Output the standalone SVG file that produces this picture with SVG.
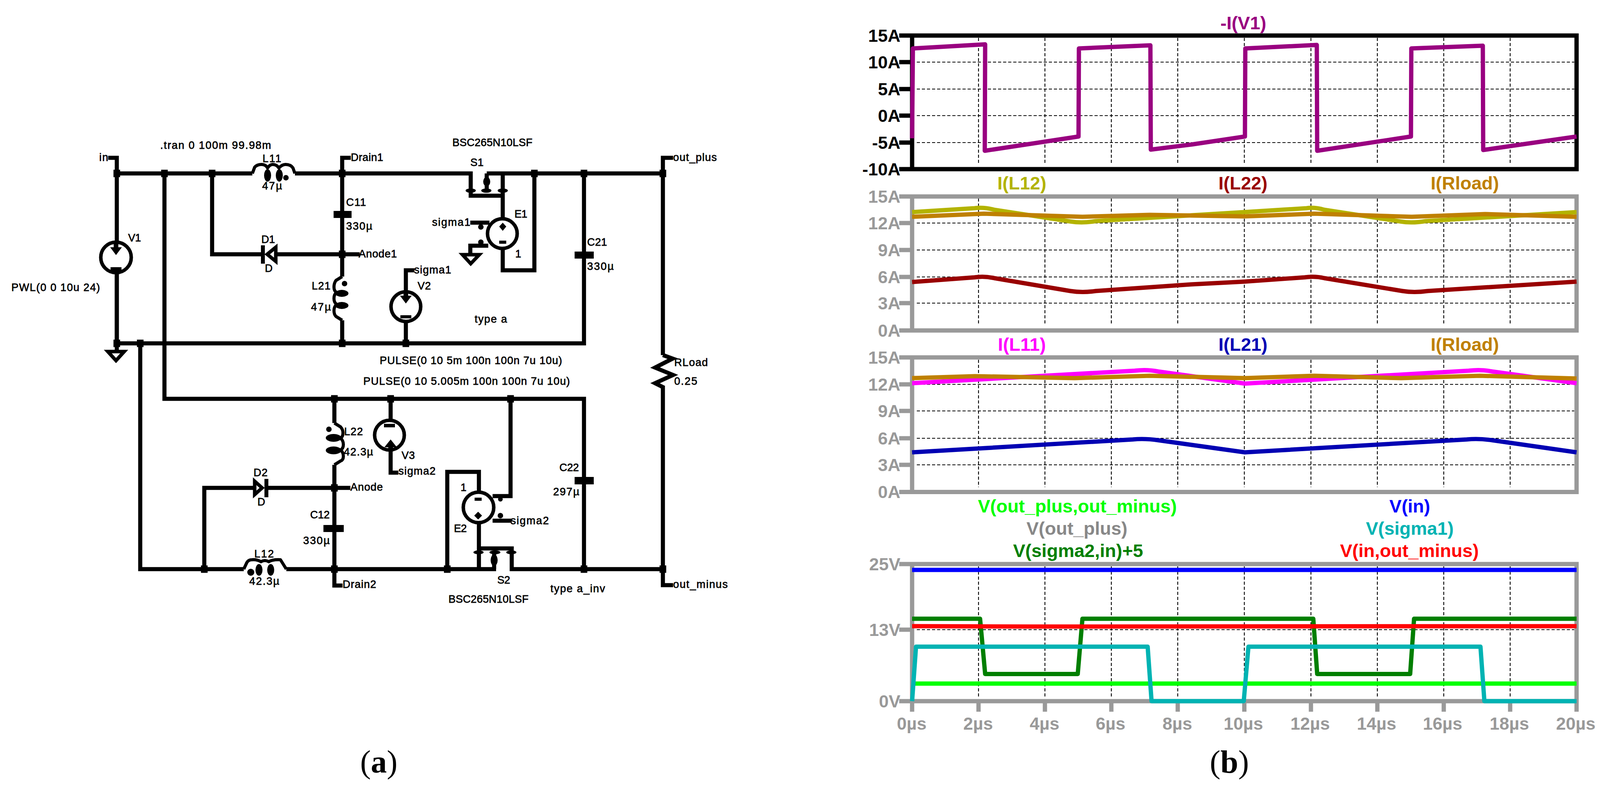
<svg xmlns="http://www.w3.org/2000/svg" xmlns:xlink="http://www.w3.org/1999/xlink" width="4102" height="2025" viewBox="0 0 4102 2025">
<style>
.w{fill:none;stroke:#000;stroke-width:10.500;stroke-linejoin:miter}
.sym{fill:none;stroke:#000;stroke-width:8;stroke-linejoin:round}
.ring{fill:#fff;stroke:#000;stroke-width:9}
.tri{fill:#fff;stroke:#000;stroke-width:9;stroke-linejoin:miter}
.b{fill:#000;stroke:none}
.t{font-family:"Liberation Sans",Arial,sans-serif;font-size:27.500px;fill:#000;stroke:#000;stroke-width:.8}
.c{font-family:"Liberation Sans",Arial,sans-serif;font-weight:700;font-size:45px}
.tl{font-family:"Liberation Sans",Arial,sans-serif;font-weight:700;font-size:47px;text-anchor:middle}
.m{text-anchor:middle}
.e{text-anchor:end}
.gy{fill:#999}
.k{fill:#000}
.grid{fill:none;stroke:#000;stroke-width:2.200;stroke-dasharray:8 5}
.fg{fill:none;stroke:#999;stroke-width:11;stroke-linejoin:miter}
.fk{fill:none;stroke:#000;stroke-width:11;stroke-linejoin:miter}
.tr{fill:none;stroke-width:11;stroke-linejoin:round}
.cap{font-family:"Liberation Serif","Times New Roman",serif;font-size:82px;fill:#000}
</style>
<defs>
<rect id="j" x="-8.500" y="-9.500" width="17" height="19" fill="#000"/>
</defs>

<g id="connectors">
<path class="w" d="M277 404H299V879"/>
<path class="w" d="M299 444H646"/>
<path class="w" d="M755 444H1205V501H1287"/>
<path class="w" d="M1287 444V557"/>
<path class="w" d="M1246 444H1697"/>
<path class="w" d="M1246 444V488"/>
<path class="w" d="M421 444V1021H1495V1457"/>
<path class="w" d="M543 444V651H669"/>
<path class="w" d="M710 651H921"/>
<path class="w" d="M898 404H876V708"/>
<path class="w" d="M876 820V879"/>
<path class="w" d="M299 879H1495V444"/>
<path class="w" d="M299 879V896"/>
<path class="w" d="M1061 692H1039V744"/>
<path class="w" d="M1039 827V879"/>
<path class="w" d="M1368 444V692H1287V639"/>
<path class="w" d="M1204 570H1253"/>
<path class="w" d="M1250 629H1204V648"/>
<path class="w" d="M1723 404H1697V909"/>
<path class="w" d="M1697 909L1722 918L1677 941L1723 960L1677 981L1697 991V1498H1723"/>
<path class="w" d="M359 879V1457H624"/>
<path class="w" d="M733 1457H1270"/>
<path class="w" d="M1265 1414V1457"/>
<path class="w" d="M1226 1342V1457"/>
<path class="w" d="M1226 1404H1310V1457H1697"/>
<path class="w" d="M856 1021V1083"/>
<path class="w" d="M856 1190V1499H877"/>
<path class="w" d="M1000 1021V1072"/>
<path class="w" d="M1000 1156V1210H1020"/>
<path class="w" d="M897 1249H686"/>
<path class="w" d="M649 1249H523V1457"/>
<path class="w" d="M1145 1457V1208H1226V1257"/>
<path class="w" d="M1307 1021V1270H1261"/>
<path class="w" d="M1261 1333H1310"/>
<use xlink:href="#j" href="#j" x="299" y="444"/>
<use xlink:href="#j" href="#j" x="421" y="444"/>
<use xlink:href="#j" href="#j" x="543" y="444"/>
<use xlink:href="#j" href="#j" x="876" y="444"/>
<use xlink:href="#j" href="#j" x="1368" y="444"/>
<use xlink:href="#j" href="#j" x="1495" y="444"/>
<use xlink:href="#j" href="#j" x="1697" y="444"/>
<use xlink:href="#j" href="#j" x="876" y="651"/>
<use xlink:href="#j" href="#j" x="299" y="879"/>
<use xlink:href="#j" href="#j" x="359" y="879"/>
<use xlink:href="#j" href="#j" x="876" y="879"/>
<use xlink:href="#j" href="#j" x="1039" y="879"/>
<use xlink:href="#j" href="#j" x="856" y="1021"/>
<use xlink:href="#j" href="#j" x="1000" y="1021"/>
<use xlink:href="#j" href="#j" x="1307" y="1021"/>
<use xlink:href="#j" href="#j" x="856" y="1249"/>
<use xlink:href="#j" href="#j" x="523" y="1457"/>
<use xlink:href="#j" href="#j" x="856" y="1457"/>
<use xlink:href="#j" href="#j" x="1145" y="1457"/>
<use xlink:href="#j" href="#j" x="1495" y="1457"/>
<use xlink:href="#j" href="#j" x="1697" y="1457"/>
</g>

<g id="V1">
<circle class="ring" cx="297" cy="659" r="39"/>
<path class="b" d="M291 622h12v11h9l-15 20l-15-20h9z"/>
<path class="w" d="M299 698V879"/>
<rect class="b" x="283" y="684" width="28" height="12"/>
<text class="t" x="328" y="618" textLength="33">V1</text>
<text class="t" x="29" y="745" textLength="227">PWL(0 0 10u 24)</text>
</g>
<g id="GND1"><path class="tri" d="M276 900H318L297 923Z"/></g>
<g id="L11">
<path class="sym" d="M646 444L652 428Q658 421 670 421Q680 421 685 430Q691 421 698 421Q708 421 714 430Q722 421 731 421Q744 421 750 430L755 444"/>
<ellipse class="b" cx="685" cy="449" rx="9" ry="16"/>
<ellipse class="b" cx="715" cy="449" rx="9" ry="16"/>
<circle class="b" cx="732" cy="455" r="7"/>
<text class="t" x="672" y="415" textLength="48">L11</text>
<text class="t" x="671" y="485" textLength="51">47µ</text>
</g>
<g id="C11">
<rect class="b" x="854" y="540" width="46" height="18"/>
<text class="t" x="886" y="527" textLength="51">C11</text>
<text class="t" x="886" y="588" textLength="67">330µ</text>
</g>
<g id="D1">
<path class="b" d="M668 628h10v47h-10z"/>
<path class="tri" d="M684 651L706 633V669Z"/>
<text class="t" x="669" y="622" textLength="35">D1</text>
<text class="t" x="678" y="696" textLength="20">D</text>
</g>
<g id="L21">
<path class="sym" d="M876 708L860 718Q855 725 855 735Q855 745 862 749Q855 753 855 764Q855 775 862 779Q855 785 855 795Q855 805 860 810L876 820"/>
<ellipse class="b" cx="875" cy="751" rx="17" ry="9"/>
<ellipse class="b" cx="875" cy="782" rx="17" ry="9"/>
<circle class="b" cx="882" cy="726" r="7"/>
<text class="t" x="798" y="741" textLength="48">L21</text>
<text class="t" x="796" y="795" textLength="51">47µ</text>
</g>
<g id="V2">
<circle class="ring" cx="1039" cy="785" r="38"/>
<path class="b" d="M1033 746h12v11h9l-15 20l-15-20h9z"/>
<rect class="b" x="1025" y="807" width="28" height="8"/>
<text class="t" x="1069" y="741" textLength="34">V2</text>
</g>
<g id="S1">
<ellipse class="b" cx="1205" cy="488" rx="13" ry="5.500"/>
<ellipse class="b" cx="1245" cy="488" rx="13" ry="5.500"/>
<ellipse class="b" cx="1287" cy="488" rx="13" ry="5.500"/>
<ellipse class="b" cx="1246" cy="465" rx="9" ry="12"/>
<text class="t" x="1204" y="425" textLength="34">S1</text>
<text class="t" x="1158" y="374" textLength="205">BSC265N10LSF</text>
</g>
<g id="E1">
<circle class="ring" cx="1286" cy="598" r="38"/>
<path class="b" d="M1287 570l9 10l-9 11l-9-11z"/>
<rect class="b" x="1278" y="616" width="18" height="8"/>
<circle class="b" cx="1231" cy="581" r="7"/>
<circle class="b" cx="1231" cy="620" r="7"/>
<text class="t" x="1317" y="557" textLength="33">E1</text>
<text class="t" x="1319" y="659" textLength="14">1</text>
</g>
<g id="GND2"><path class="tri" d="M1184 652H1227L1205 675Z"/></g>
<g id="C21">
<rect class="b" x="1471" y="644" width="49" height="18"/>
<text class="t" x="1503" y="629" textLength="51">C21</text>
<text class="t" x="1503" y="691" textLength="68">330µ</text>
</g>
<g id="RLoad">
<text class="t" x="1726" y="937" textLength="86">RLoad</text>
<text class="t" x="1726" y="985" textLength="59">0.25</text>
</g>
<g id="L22">
<path class="sym" d="M856 1083L872 1093Q878 1100 878 1108Q878 1118 872 1122Q879 1128 879 1138Q879 1148 872 1152Q879 1158 879 1168Q879 1178 872 1180L856 1190"/>
<ellipse class="b" cx="854" cy="1121" rx="20" ry="10"/>
<ellipse class="b" cx="854" cy="1153" rx="20" ry="10"/>
<circle class="b" cx="842" cy="1099" r="7"/>
<text class="t" x="881" y="1114" textLength="48">L22</text>
<text class="t" x="880" y="1166" textLength="75">42.3µ</text>
</g>
<g id="V3">
<circle class="ring" cx="997" cy="1114" r="38"/>
<rect class="b" x="983" y="1085" width="28" height="9"/>
<path class="b" d="M1000 1125l16 20h-10v11h-12v-11h-10z"/>
<text class="t" x="1028" y="1175" textLength="34">V3</text>
<text class="t" x="1020" y="1215" textLength="95">sigma2</text>
</g>
<g id="D2">
<path class="b" d="M677 1226h10v47h-10z"/>
<path class="tri" d="M671 1249L652 1232V1266Z"/>
<text class="t" x="649" y="1219" textLength="36">D2</text>
<text class="t" x="659" y="1294" textLength="19">D</text>
</g>
<g id="C12">
<rect class="b" x="828" y="1344" width="52" height="18"/>
<text class="t" x="794" y="1327" textLength="50">C12</text>
<text class="t" x="776" y="1393" textLength="68">330µ</text>
</g>
<g id="L12">
<path class="sym" d="M624 1457L632 1440Q636 1433 645 1433Q658 1432 668 1438Q678 1432 688 1438Q698 1432 718 1433L733 1457"/>
<circle class="b" cx="642" cy="1465" r="9"/>
<ellipse class="b" cx="663" cy="1459" rx="9" ry="15"/>
<ellipse class="b" cx="693" cy="1459" rx="9" ry="15"/>
<text class="t" x="651" y="1427" textLength="50">L12</text>
<text class="t" x="638" y="1497" textLength="77">42.3µ</text>
</g>
<g id="E2">
<circle class="ring" cx="1225" cy="1299" r="39"/>
<rect class="b" x="1215" y="1274" width="18" height="8"/>
<path class="b" d="M1224 1310l10 10l-10 10l-10-10z"/>
<circle class="b" cx="1281" cy="1278" r="6"/>
<circle class="b" cx="1281" cy="1320" r="7"/>
<text class="t" x="1179" y="1257" textLength="14">1</text>
<text class="t" x="1162" y="1362" textLength="33">E2</text>
</g>
<g id="S2">
<ellipse class="b" cx="1225" cy="1414" rx="13" ry="5"/>
<ellipse class="b" cx="1267" cy="1414" rx="14" ry="5"/>
<ellipse class="b" cx="1309" cy="1414" rx="13" ry="5"/>
<ellipse class="b" cx="1265" cy="1434" rx="9" ry="15"/>
<text class="t" x="1273" y="1494" textLength="33">S2</text>
<text class="t" x="1148" y="1543" textLength="205">BSC265N10LSF</text>
</g>
<g id="C22">
<rect class="b" x="1471" y="1221" width="49" height="19"/>
<text class="t" x="1432" y="1206" textLength="50">C22</text>
<text class="t" x="1416" y="1268" textLength="67">297µ</text>
</g>
<g id="labels">
<text class="t" x="410" y="381" textLength="284">.tran 0 100m 99.98m</text>
<text class="t" x="254" y="412" textLength="23">in</text>
<text class="t" x="898" y="412" textLength="83">Drain1</text>
<text class="t" x="918" y="659" textLength="98">Anode1</text>
<text class="t" x="1060" y="700" textLength="95">sigma1</text>
<text class="t" x="1106" y="578" textLength="98">sigma1</text>
<text class="t" x="972" y="932" textLength="467">PULSE(0 10 5m 100n 100n 7u 10u)</text>
<text class="t" x="930" y="985" textLength="529">PULSE(0 10 5.005m 100n 100n 7u 10u)</text>
<text class="t" x="1215" y="826" textLength="83">type a</text>
<text class="t" x="1723" y="412" textLength="112">out_plus</text>
<text class="t" x="897" y="1256" textLength="83">Anode</text>
<text class="t" x="877" y="1505" textLength="86">Drain2</text>
<text class="t" x="1307" y="1342" textLength="98">sigma2</text>
<text class="t" x="1409" y="1516" textLength="140">type a_inv</text>
<text class="t" x="1723" y="1505" textLength="140">out_minus</text>
</g>
<text class="cap" x="922" y="1978">(<tspan font-weight="700">a</tspan>)</text>

<g id="panel-1">
<path class="grid" d="M2347 159H4030M2347 228H4030M2347 296H4030M2347 365H4030M2505 97V421M2675 97V421M2845 97V421M3015 97V421M3185.500 97V421M3356 97V421M3526 97V421M3696 97V421M3866 97V421"/>
<path class="fk" d="M2302 91H4036V433H2302M2335 91V433M2302 159H2335M2302 228H2335M2302 296H2335M2302 365H2335"/>
<path class="tr" stroke="#990080" d="M2335 354L2337 124L2522 113.500L2521 386L2761 349.500L2762 124L2945 116L2946 383L3050 370L3187 349.500L3188 124L3371 115L3372 386L3612 349.500L3613 124L3796 117L3797 384L4036 349.500"/>
<g class="c e k">
<text x="2305" y="107">15A</text><text x="2305" y="175">10A</text><text x="2305" y="244">5A</text><text x="2305" y="312">0A</text><text x="2305" y="381">-5A</text><text x="2305" y="449">-10A</text>
</g>
<text class="tl" x="3183" y="75" fill="#990080">-I(V1)</text>
</g>

<g id="panel-2">
<path class="grid" d="M2347 571H4030M2347 640H4030M2347 709H4030M2347 776H4030M2505 508V833M2675 508V833M2845 508V833M3015 508V833M3185.500 508V833M3356 508V833M3526 508V833M3696 508V833M3866 508V833"/>
<path class="fg" d="M2302 503H4036V846H2302M2335 503V846M2302 571H2335M2302 640H2335M2302 709H2335M2302 776H2335"/>
<path class="tr" stroke="#b3b300" d="M2335 543L2495 533Q2519 530 2545 537L2740 567Q2771 572 2805 566L3185 543L3345 533Q3365 530 3390 537L3585 567Q3614 572 3650 566L4036 543"/>
<path class="tr" stroke="#bf8000" d="M2335 555L2519 547L2771 555L2943 550L3185 554L3365 547L3614 555L3802 548L4036 555"/>
<path class="tr" stroke="#990000" d="M2335 722L2495 710Q2519 706 2545 712L2740 745Q2771 750 2805 745L3050 728L3185 721L3340 710Q3365 706 3390 712L3590 745Q3620 750 3655 745L4036 721"/>
<g class="c e gy">
<text x="2305" y="519">15A</text><text x="2305" y="587">12A</text><text x="2305" y="656">9A</text><text x="2305" y="725">6A</text><text x="2305" y="792">3A</text><text x="2305" y="862">0A</text>
</g>
<text class="tl" x="2616" y="485" fill="#b3b300">I(L12)</text>
<text class="tl" x="3182" y="485" fill="#990000">I(L22)</text>
<text class="tl" x="3750" y="485" fill="#bf8000">I(Rload)</text>
</g>

<g id="panel-3">
<path class="grid" d="M2347 984H4030M2347 1052H4030M2347 1122H4030M2347 1190H4030M2505 921V1247M2675 921V1247M2845 921V1247M3015 921V1247M3185.500 921V1247M3356 921V1247M3526 921V1247M3696 921V1247M3866 921V1247"/>
<path class="fg" d="M2302 915H4036V1259.500H2302M2335 915V1259.500M2302 984H2335M2302 1052H2335M2302 1122H2335M2302 1190H2335"/>
<path class="tr" stroke="#ff00ff" d="M2335 981L2905 949Q2936 945 2965 951L3187 982L3760 949Q3791 945 3820 951L4036 981"/>
<path class="tr" stroke="#bf8000" d="M2335 968L2496 963L2751 968L2943 962L3187 968L3365 962L3587 968L3788 962L4036 969"/>
<path class="tr" stroke="#0000b3" d="M2335 1158L2900 1125Q2930 1122 2965 1127L3187 1158L3755 1125Q3785 1122 3820 1127L4036 1158"/>
<g class="c e gy">
<text x="2305" y="931">15A</text><text x="2305" y="1000">12A</text><text x="2305" y="1068">9A</text><text x="2305" y="1138">6A</text><text x="2305" y="1206">3A</text><text x="2305" y="1275">0A</text>
</g>
<text class="tl" x="2616" y="898" fill="#ff00ff">I(L11)</text>
<text class="tl" x="3182" y="898" fill="#0000b3">I(L21)</text>
<text class="tl" x="3750" y="898" fill="#bf8000">I(Rload)</text>
</g>

<g id="panel-4">
<path class="grid" d="M2347 1612H4030M2505 1450V1783M2675 1450V1783M2845 1450V1783M3015 1450V1783M3185.500 1450V1783M3356 1450V1783M3526 1450V1783M3696 1450V1783M3866 1450V1783"/>
<path class="fg" d="M2302 1444H4036V1795H2302M2335 1444V1822M4036 1795V1822M2302 1612H2335M2505 1795V1822M2675 1795V1822M2845 1795V1822M3015 1795V1822M3185.500 1795V1822M3356 1795V1822M3526 1795V1822M3696 1795V1822M3866 1795V1822"/>
<path class="tr" stroke="#0000ff" d="M2335 1459H4036"/>
<path class="tr" stroke="#00ff00" d="M2335 1750H4036"/>
<path class="tr" stroke="#007f00" d="M2335 1584H2509L2522 1725.500H2759L2771 1584H3362L3372 1725.500H3610L3620 1584H4036"/>
<path class="tr" stroke="#00b3b3" d="M2335 1795L2345 1655.500H2938L2948 1795H3184L3196 1655.500H3790L3800 1795H4036"/>
<path class="tr" stroke="#ff0000" d="M2335 1603L2640 1604L4036 1603"/>
<g class="c e gy">
<text x="2305" y="1460">25V</text><text x="2305" y="1628">13V</text><text x="2305" y="1811">0V</text>
</g>
<g class="c m gy">
<text x="2334" y="1868">0µs</text><text x="2504" y="1868">2µs</text><text x="2674" y="1868">4µs</text><text x="2843" y="1868">6µs</text><text x="3014" y="1868">8µs</text><text x="3183" y="1868">10µs</text><text x="3354" y="1868">12µs</text><text x="3524" y="1868">14µs</text><text x="3693" y="1868">16µs</text><text x="3864" y="1868">18µs</text><text x="4034" y="1868">20µs</text>
</g>
<text class="tl" x="2758" y="1312" fill="#00ff00">V(out_plus,out_minus)</text>
<text class="tl" x="2757" y="1369" fill="#888">V(out_plus)</text>
<text class="tl" x="2760" y="1426" fill="#007f00">V(sigma2,in)+5</text>
<text class="tl" x="3609" y="1312" fill="#0000ff">V(in)</text>
<text class="tl" x="3609" y="1369" fill="#00b3b3">V(sigma1)</text>
<text class="tl" x="3608" y="1426" fill="#ff0000">V(in,out_minus)</text>
</g>
<text class="cap" x="3097" y="1978">(<tspan font-weight="700">b</tspan>)</text>
</svg>
